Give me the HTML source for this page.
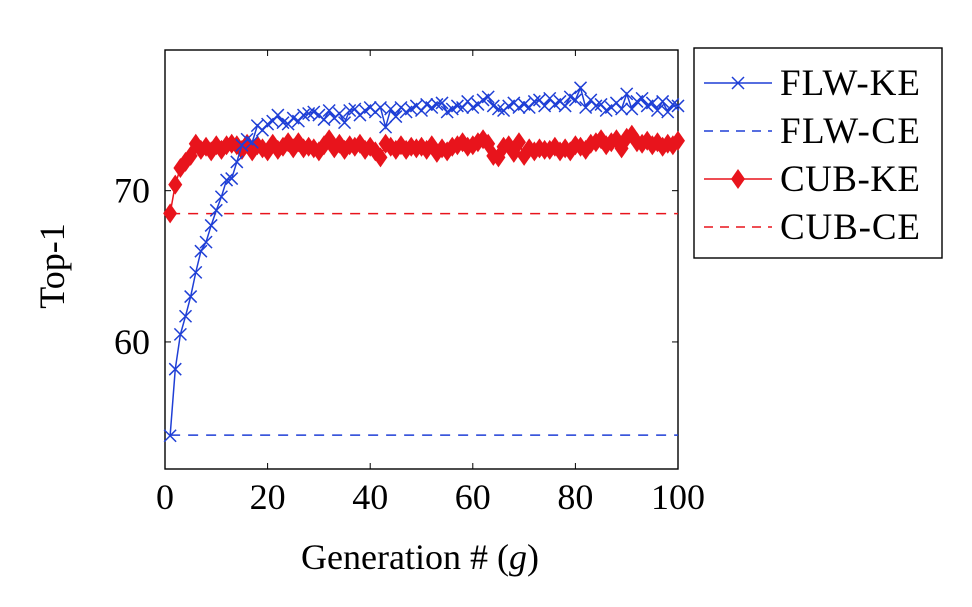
<!DOCTYPE html>
<html><head><meta charset="utf-8"><style>
body{margin:0;background:#fff;}
svg text{font-family:"Liberation Serif",serif;fill:#000;}
</style></head><body>
<svg width="972" height="602">
<g id="plot"></g>
<g>
<rect x="694" y="48" width="248" height="210" fill="#fff" stroke="#000" stroke-width="1.4"/>
<line x1="704" y1="83" x2="772" y2="83" stroke="#1f3fd6" stroke-width="1.5"/>
<path d="M732 77l12 12M732 89l12-12" stroke="#1f3fd6" stroke-width="1.5"/>
<text x="780" y="95" font-size="37" textLength="140">FLW-KE</text>
<line x1="704" y1="131" x2="772" y2="131" stroke="#1f3fd6" stroke-width="1.5" stroke-dasharray="9,7"/>
<text x="780" y="143" font-size="37" textLength="140">FLW-CE</text>
<line x1="704" y1="179" x2="772" y2="179" stroke="#e8141c" stroke-width="1.5"/>
<path d="M738 169l7 10-7 10-7-10z" fill="#e8141c"/>
<text x="780" y="191" font-size="37" textLength="140">CUB-KE</text>
<line x1="704" y1="227" x2="772" y2="227" stroke="#e8141c" stroke-width="1.5" stroke-dasharray="9,7"/>
<text x="780" y="239" font-size="37" textLength="140">CUB-CE</text>
</g>
<text x="420" y="569" font-size="36" text-anchor="middle">Generation # (<tspan font-style="italic">g</tspan>)</text>
<text transform="translate(64,266) rotate(-90)" font-size="36" text-anchor="middle">Top-1</text>
</svg>
<script>
const flwKE=[53.8,58.2,60.5,61.7,63.0,64.6,66.0,66.6,67.7,68.7,69.6,70.7,70.8,71.9,73.0,73.4,73.2,74.3,74.0,74.4,74.6,75.0,74.5,74.4,74.8,74.6,75.0,75.1,75.2,75.0,74.7,75.3,74.8,75.1,74.5,75.3,75.4,75.0,75.3,75.5,75.2,75.5,74.2,75.4,74.9,75.5,75.2,75.4,75.6,75.3,75.7,75.5,75.7,75.8,75.2,75.4,75.6,75.5,75.9,75.5,75.7,76.0,76.2,75.6,75.4,75.3,75.6,75.8,75.5,75.7,75.5,75.9,76.0,75.6,76.1,75.7,75.9,75.6,76.2,76.0,76.8,75.5,76.0,75.6,75.7,75.3,75.5,75.8,75.4,76.4,75.4,75.9,76.1,75.6,75.8,75.3,75.9,75.2,75.7,75.6];
const cubKE=[68.5,70.4,71.5,71.9,72.3,73.1,72.7,72.9,72.6,73.0,72.7,73.0,73.1,73.0,72.7,73.1,72.6,73.0,72.8,72.6,73.1,72.7,72.9,73.2,72.8,73.2,72.8,72.9,72.8,72.6,73.0,73.4,72.8,73.1,72.7,73.0,72.9,73.1,72.7,72.9,72.6,72.2,73.1,72.9,72.7,73.0,72.7,72.9,72.8,72.9,72.7,73.0,72.5,72.8,72.6,72.9,73.0,73.2,72.9,73.0,73.2,73.4,73.1,72.3,72.2,72.9,73.0,72.5,73.2,72.3,72.8,72.6,72.8,72.7,72.7,72.9,72.6,72.8,72.6,73.0,72.9,72.7,73.1,73.2,73.4,73.0,73.2,73.4,72.8,73.5,73.7,73.2,73.1,73.3,73.0,73.2,72.9,73.1,73.0,73.3];
const flwCE=53.84, cubCE=68.48;
const xTicks=[0,20,40,60,80,100], yTicks=[60,70];
const X0=165,X1=678,Y0=50,Y1=469,xmin=0,xmax=100,ymin=51.6,ymax=79.3;
const sx=v=>X0+(v-xmin)/(xmax-xmin)*(X1-X0);
const sy=v=>Y1-(v-ymin)/(ymax-ymin)*(Y1-Y0);
const NS="http://www.w3.org/2000/svg",g=document.getElementById('plot');
function mk(t,a){const e=document.createElementNS(NS,t);for(const k in a)e.setAttribute(k,a[k]);g.appendChild(e);return e;}
let e;
e=mk('rect',{x:X0,y:Y0,width:X1-X0,height:Y1-Y0,fill:'none',stroke:'#000','stroke-width':1.4});


xTicks.forEach(t=>{
 mk('line',{x1:sx(t),x2:sx(t),y1:Y1,y2:Y1-6,stroke:'#000'});mk('line',{x1:sx(t),x2:sx(t),y1:Y0,y2:Y0+6,stroke:'#000'});
 e=mk('text',{x:sx(t),y:Y1+40,'font-size':36,'text-anchor':'middle'});e.textContent=t;
 
 
});
yTicks.forEach(t=>{
 mk('line',{x1:X0,x2:X0+6,y1:sy(t),y2:sy(t),stroke:'#000'});mk('line',{x1:X1,x2:X1-6,y1:sy(t),y2:sy(t),stroke:'#000'});
 e=mk('text',{x:X0-15,y:sy(t)+12,'font-size':36,'text-anchor':'end'});e.textContent=t;
 
 
});
e=mk('line',{x1:sx(1),x2:sx(100),y1:sy(flwCE),y2:sy(flwCE),stroke:'#1f3fd6','stroke-width':1.5,'stroke-dasharray':'10,8'});


e=mk('line',{x1:sx(1),x2:sx(100),y1:sy(cubCE),y2:sy(cubCE),stroke:'#e8141c','stroke-width':1.5,'stroke-dasharray':'10,8'});


e=mk('polyline',{points:cubKE.map((v,i)=>sx(i+1)+','+sy(v)).join(' '),fill:'none',stroke:'#e8141c','stroke-width':1.5});


cubKE.forEach((v,i)=>{const x=sx(i+1),y=sy(v);
 e=mk('path',{d:`M${x} ${y-10}l7 10-7 10-7-10z`,fill:'#e8141c'});
 
 });
e=mk('polyline',{points:flwKE.map((v,i)=>sx(i+1)+','+sy(v)).join(' '),fill:'none',stroke:'#1f3fd6','stroke-width':1.5});


flwKE.forEach((v,i)=>{const x=sx(i+1),y=sy(v);
 e=mk('path',{d:`M${x-6} ${y-6}l12 12M${x-6} ${y+6}l12-12`,stroke:'#1f3fd6','stroke-width':1.5});
 
 });
</script>
</body></html>
